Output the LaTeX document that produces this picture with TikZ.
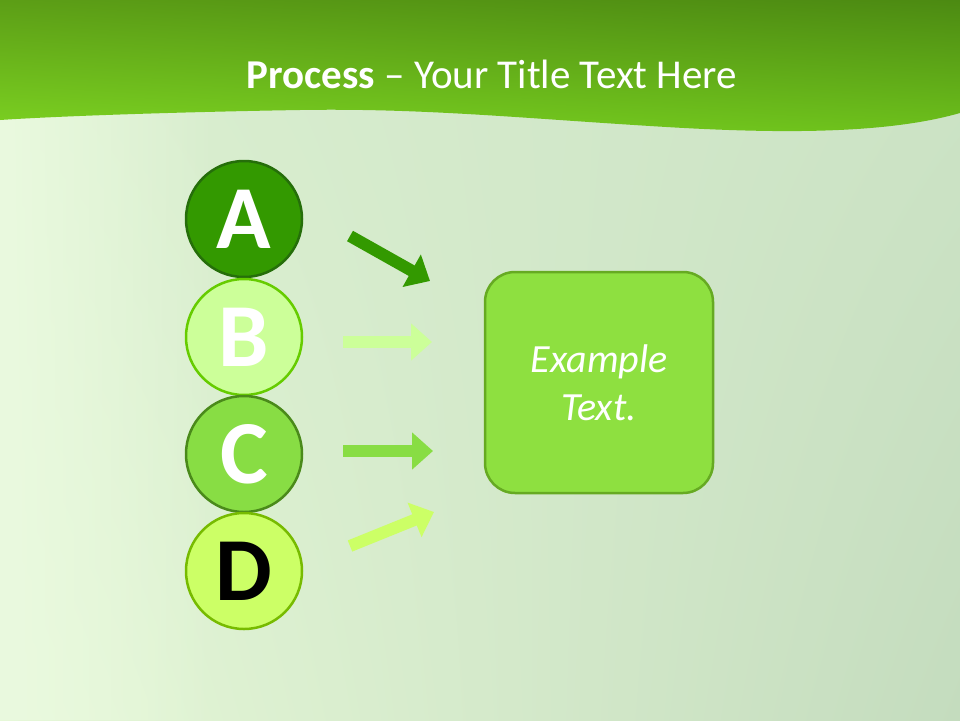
\documentclass[tikz,border=0pt]{standalone}
\usepackage{fontspec}
\setmainfont{Carlito}
\usetikzlibrary{arrows.meta,shapes.geometric,shadings,fadings}
\definecolor{bgUL}{HTML}{D9EECF}
\definecolor{bgUR}{HTML}{CDE4C6}
\definecolor{bgLL}{HTML}{E6F8D8}
\definecolor{bgLR}{HTML}{C4DCBE}
\definecolor{bgLight}{HTML}{EAFADF}
\definecolor{hdUL}{HTML}{5C9E16}
\definecolor{hdUR}{HTML}{4C8A12}
\definecolor{hdLL}{HTML}{7DD322}
\definecolor{hdLR}{HTML}{6EC21C}
\definecolor{aFill}{HTML}{339900}
\definecolor{aLine}{HTML}{256E0A}
\definecolor{bFill}{HTML}{CCFF99}
\definecolor{bLine}{HTML}{66CC00}
\definecolor{cFill}{HTML}{88DD44}
\definecolor{cLine}{HTML}{4A8A1A}
\definecolor{dFill}{HTML}{CCFF66}
\definecolor{dLine}{HTML}{77BB00}
\definecolor{boxFill}{HTML}{8EE040}
\definecolor{boxLine}{HTML}{66AA22}
\tikzfading[name=fadeR, left color=transparent!0, right color=transparent!100]
\tikzset{
  letter/.style={circle, inner sep=0pt, minimum size=116pt, line width=2.5pt,
    font=\fontsize{90}{90}\selectfont\bfseries},
  blockarrow/.style={line width=12pt, -{Triangle[length=21pt,width=36pt]}},
}
\begin{document}
\begin{tikzpicture}[x=1pt,y=-1pt]
\useasboundingbox (0,0) rectangle (960,720);
% background
\shade[upper left=bgUL, upper right=bgUR, lower left=bgLL, lower right=bgLR] (0,0) rectangle (960,720);
\fill[bgLight, path fading=fadeR] (0,0) rectangle (220,720);
% header
\shade[upper left=hdUL, upper right=hdUR, lower left=hdLL, lower right=hdLR]
  (0,0) -- (960,0) -- (960,113)
  .. controls (880,136) and (760,133) .. (650,126)
  .. controls (520,118) and (420,108) .. (300,110)
  .. controls (180,112) and (60,116) .. (0,120) -- cycle;
\node[anchor=base, text=white, font=\fontsize{41}{41}\selectfont] (title) at (492,88)
  {\textbf{Process} – Your Title Text Here};
% circles
\node[letter, fill=aFill, draw=aLine, text=white] (A) at (244,219) {A};
\node[letter, fill=bFill, draw=bLine, text=white] (B) at (244,337) {B};
\node[letter, fill=cFill, draw=cLine, text=white] (C) at (244,454) {C};
\node[letter, fill=dFill, draw=dLine, text=black] (D) at (244,571) {D};
% box
\node[rectangle, rounded corners=30pt, minimum width=228pt, minimum height=221pt,
  fill=boxFill, draw=boxLine, line width=2.5pt, text=white, align=center,
  font=\fontsize{40}{48}\selectfont\itshape] (box) at (599,382.5) {Example\\Text.};
% arrows
\coordinate (a1) at (350,236); \coordinate (a2) at (430,281);
\coordinate (b1) at (343,342); \coordinate (b2) at (432,342);
\coordinate (c1) at (343,451); \coordinate (c2) at (433,451);
\coordinate (d1) at (350,546); \coordinate (d2) at (434,512);
\draw[blockarrow, draw=aFill] (a1) -- (a2);
\draw[blockarrow, draw=bFill] (b1) -- (b2);
\draw[blockarrow, draw=cFill] (c1) -- (c2);
\draw[blockarrow, draw=dFill] (d1) -- (d2);
\end{tikzpicture}
\end{document}
